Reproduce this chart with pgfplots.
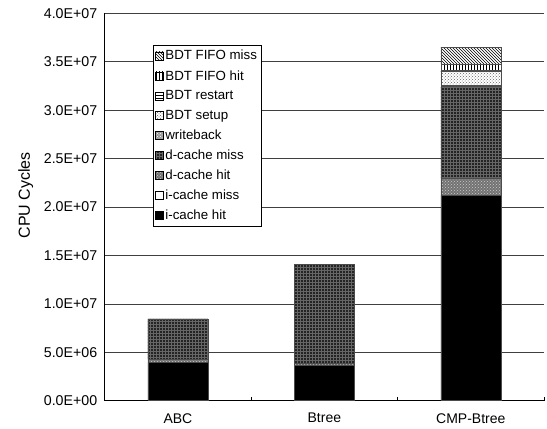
\documentclass[border=0pt]{standalone}
\usepackage{pgfplots}
\pgfplotsset{compat=1.18}
\usepackage{fontspec}
\setmainfont{Liberation Sans}
\usetikzlibrary{patterns}
\begin{document}
\begin{tikzpicture}
\begin{axis}[
  width=439.3pt, height=387.4pt, scale only axis,
  ybar stacked, bar width=60pt,
  xmin=-0.5, xmax=2.5, ymin=0, ymax=4e7,
  axis lines*=left,
  axis line style={black, line width=0.7pt},
  xtick={0,1,2}, xticklabels={ABC,Btree,CMP-Btree},
  minor xtick={0.5,1.5,2.5},
  major x tick style={draw=none},
  minor x tick style={black, line width=0.6pt},
  minor tick length=4pt, tick align=inside,
  ytick={0,5e6,1e7,1.5e7,2e7,2.5e7,3e7,3.5e7,4e7},
  yticklabels={0.0E+00,5.0E+06,1.0E+07,1.5E+07,2.0E+07,2.5E+07,3.0E+07,3.5E+07,4.0E+07},
  scaled y ticks=false,
  ytick style={draw=none},
  ymajorgrids, major grid style={black!75, line width=0.6pt},
  every x tick label/.append style={font=\fontsize{14}{16}\selectfont, yshift=-9pt},
  every y tick label/.append style={font=\fontsize{14.2}{16}\selectfont, xshift=-4pt},
  ylabel={CPU Cycles},
  ylabel style={font=\fontsize{16}{18}\selectfont, at={(axis description cs:-0.18,0.53)}, anchor=center},
  reverse legend,
  legend style={at={(0.109,0.918)}, anchor=north west, draw=black, line width=0.6pt,
    font=\fontsize{13.3}{15}\selectfont, row sep=4.9pt, inner xsep=2pt, inner ysep=3pt,
    cells={anchor=west}},
  legend image code/.code={\draw[#1, draw=black, line width=0.5pt] (0pt,-4pt) rectangle (8pt,4pt);},
  every axis plot/.append style={draw=black!70, line width=0.5pt},
]
\addplot[fill=black] coordinates {(0,3.96e6) (1,3.69e6) (2,21.21e6)};
\addlegendentry{i-cache hit}
\addplot[fill=white] coordinates {(0,0) (1,0) (2,0)};
\addlegendentry{i-cache miss}
\addplot[fill=black!55, postaction={pattern=crosshatch dots, pattern color=black!20}] coordinates {(0,0.3e6) (1,0.17e6) (2,1.71e6)};
\addlegendentry{d-cache hit}
\addplot[fill=black!86, postaction={pattern=grid, pattern color=black!60}] coordinates {(0,4.19e6) (1,10.25e6) (2,9.5e6)};
\addlegendentry{d-cache miss}
\addplot[fill=black!40, postaction={pattern=crosshatch dots, pattern color=white}] coordinates {(0,0) (1,0) (2,0.1e6)};
\addlegendentry{writeback}
\addplot[fill=white, postaction={pattern=crosshatch dots, pattern color=black!60}] coordinates {(0,0) (1,0) (2,1.45e6)};
\addlegendentry{BDT setup}
\addplot[fill=white, postaction={pattern=horizontal lines, pattern color=black}] coordinates {(0,0) (1,0) (2,0.1e6)};
\addlegendentry{BDT restart}
\addplot[fill=white, postaction={pattern=vertical lines, pattern color=black}] coordinates {(0,0) (1,0) (2,0.69e6)};
\addlegendentry{BDT FIFO hit}
\addplot[fill=white, postaction={pattern=north west lines, pattern color=black}] coordinates {(0,0) (1,0) (2,1.75e6)};
\addlegendentry{BDT FIFO miss}
\end{axis}
\pgfresetboundingbox
\path ([shift={(-104.7pt,-28.3pt)}]current axis.south west) rectangle ([shift={(3pt,13.3pt)}]current axis.north east);
\end{tikzpicture}
\end{document}
